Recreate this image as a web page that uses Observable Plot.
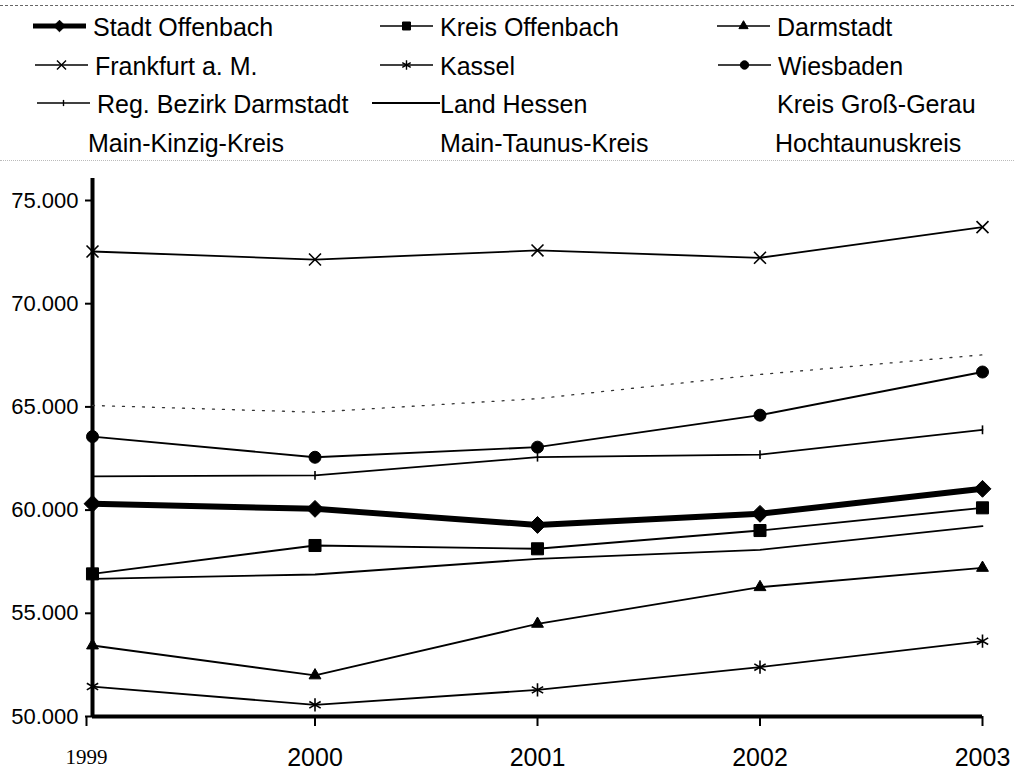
<!DOCTYPE html>
<html><head><meta charset="utf-8">
<script src="https://cdn.jsdelivr.net/npm/d3@7"></script>
<script src="https://cdn.jsdelivr.net/npm/@observablehq/plot@0.6"></script>
<style>
body{margin:0;background:#fff;font-family:"Liberation Sans",Arial,sans-serif;}
#legend{position:relative;width:1014px;height:165px;overflow:hidden;}
.item{position:absolute;font-size:25px;color:#000;white-space:nowrap;line-height:30px;}
.rule{position:absolute;left:0;width:1014px;}
#chart svg{display:block;}
</style></head><body>
<div id="legend"></div><div id="chart"></div>
<script>
// ---- data ----
const years = [1999, 2000, 2001, 2002, 2003];
const stadtOffenbach = [60310, 60060, 59280, 59820, 61030];
const kreisOffenbach = [56910, 58285, 58125, 59010, 60110];
const darmstadt      = [53440, 51990, 54490, 56265, 57200];
const frankfurt      = [72530, 72140, 72580, 72225, 73710];
const kassel         = [51450, 50565, 51290, 52390, 53650];
const wiesbaden      = [63560, 62560, 63050, 64600, 66690];
const regBezirk      = [61630, 61680, 62565, 62690, 63890];
const landHessen     = [56670, 56880, 57640, 58075, 59220];
const grossGerau     = [65070, 64745, 65400, 66570, 67525];
const legendNames = ["Stadt Offenbach","Kreis Offenbach","Darmstadt","Frankfurt a. M.","Kassel","Wiesbaden",
  "Reg. Bezirk Darmstadt","Land Hessen","Kreis Groß-Gerau","Main-Kinzig-Kreis","Main-Taunus-Kreis","Hochtaunuskreis"];
const yTicks = [50000, 55000, 60000, 65000, 70000, 75000];

// ---- styles ----
const vtick = {draw(ctx, size){ const r = Math.sqrt(size)/2; ctx.moveTo(0,-r); ctx.lineTo(0,r); }};
const series = [
  {name:"Stadt Offenbach", values:stadtOffenbach, sw:6, lsw:5, symbol:"diamond2", r:7.6, lr:5.2, fill:true},
  {name:"Kreis Offenbach", values:kreisOffenbach, sw:1.9, lsw:1.6, symbol:"square", r:6.8, lr:4.5, fill:true},
  {name:"Darmstadt", values:darmstadt, sw:1.8, lsw:1.4, symbol:"triangle", r:4.4, lr:3.4, fill:true},
  {name:"Frankfurt a. M.", values:frankfurt, sw:1.8, lsw:1.6, symbol:"times", r:5.5, lr:4.2, fill:false},
  {name:"Kassel", values:kassel, sw:1.8, lsw:1.4, symbol:"asterisk", r:6.2, lr:4.6, fill:false},
  {name:"Wiesbaden", values:wiesbaden, sw:1.9, lsw:1.6, symbol:"circle", r:6, lr:4.2, fill:true},
  {name:"Reg. Bezirk Darmstadt", values:regBezirk, sw:1.7, lsw:1.4, symbol:vtick, r:5, lr:3.5, fill:false},
  {name:"Land Hessen", values:landHessen, sw:1.8, lsw:1.8, symbol:null},
  {name:"Kreis Groß-Gerau", values:grossGerau, sw:1.3, symbol:null, dash:"2,8", stroke:"#333", noLegend:true}
];

// ---- legend ----
const legend = document.getElementById("legend");
const textX = [[93, 440, 777], [95, 440, 778], [97, 440, 777], [88, 440, 775]];
const rowY = [26, 65, 103, 142];
const d3sym = {diamond2:d3.symbolDiamond2, square:d3.symbolSquare, triangle:d3.symbolTriangle,
  times:d3.symbolTimes, asterisk:d3.symbolAsterisk, circle:d3.symbolCircle};
[[5, "1px dashed #666"], [160, "1px dotted #bbb"]].forEach(([t, b]) => { const d = document.createElement("div"); d.className = "rule";
  d.style.top = t + "px"; d.style.borderTop = b; legend.appendChild(d); });
legendNames.forEach((name, i) => {
  const col = i % 3, row = Math.floor(i / 3);
  const tx = textX[row][col];
  const t = document.createElement("div");
  t.className = "item"; t.textContent = name;
  t.style.left = tx + "px"; t.style.top = (rowY[row] - 14) + "px";
  legend.appendChild(t);
  const s = series.find(d => d.name === name);
  if (!s || s.noLegend) return;
  const isLine = !s.symbol;
  const x0 = isLine ? tx - 68 : tx - 60, x1 = isLine ? tx : tx - 7;
  const w = x1 - x0;
  const svg = d3.create("svg").attr("width", w).attr("height", 24)
    .style("position","absolute").style("left", x0 + "px").style("top", (rowY[row] - 12) + "px");
  svg.append("line").attr("x1", 0).attr("x2", w).attr("y1", 12).attr("y2", 12)
    .attr("stroke", "#000").attr("stroke-width", s.lsw);
  if (s.symbol) {
    const size = Math.PI * s.lr * s.lr;
    const type = typeof s.symbol === "string" ? d3sym[s.symbol] : s.symbol;
    svg.append("path").attr("d", d3.symbol(type, size)()).attr("transform", `translate(${w/2},12)`)
      .attr("fill", s.fill ? "#000" : "none").attr("stroke", "#000").attr("stroke-width", s.fill ? 1 : 1.4);
  }
  legend.appendChild(svg.node());
});

// ---- chart ----
const rows = [];
series.forEach(s => s.values.forEach((v, i) => rows.push({name: s.name, year: years[i], value: v})));
const marks = [
  Plot.ruleX([1999], {strokeWidth: 4}),
  Plot.ruleY([50000], {strokeWidth: 4}),
  Plot.axisY({ticks: yTicks, tickFormat: d => (d/1000).toFixed(3), tickSize: 7, tickPadding: 7,
    fontSize: 22, strokeWidth: 2, label: null}),
  Plot.axisX({ticks: [2000, 2001, 2002, 2003], tickFormat: d => String(d), tickSize: 10, tickPadding: 22,
    fontSize: 25, strokeWidth: 2, label: null}),
  Plot.axisX({ticks: [1999], tickFormat: d => String(d), tickSize: 10, tickPadding: 23, fontSize: 21,
    fontFamily: "Liberation Serif", dx: -6, strokeWidth: 2, label: null})
];
series.forEach(s => {
  const data = rows.filter(r => r.name === s.name);
  marks.push(Plot.lineY(data, {x: "year", y: "value", stroke: s.stroke || "#000", strokeWidth: s.sw,
    strokeDasharray: s.dash, curve: "linear"}));
  if (s.symbol) {
    marks.push(Plot.dot(data, {x: "year", y: "value", symbol: () => s.symbol, r: s.r,
      fill: s.fill ? "#000" : "none", stroke: "#000", strokeWidth: s.fill ? 1 : 1.6}));
  }
});
const chart = Plot.plot({
  width: 1014, height: 605,
  marginLeft: 92, marginRight: 32, marginTop: 13, marginBottom: 54,
  style: {fontFamily: "Liberation Sans, Arial, sans-serif", background: "#fff", color: "#000", overflow: "visible"},
  x: {domain: [1999, 2003]},
  y: {domain: [50000, 76066]},
  symbol: {type: "identity"},
  marks
});
document.getElementById("chart").appendChild(chart);
</script>
</body></html>
